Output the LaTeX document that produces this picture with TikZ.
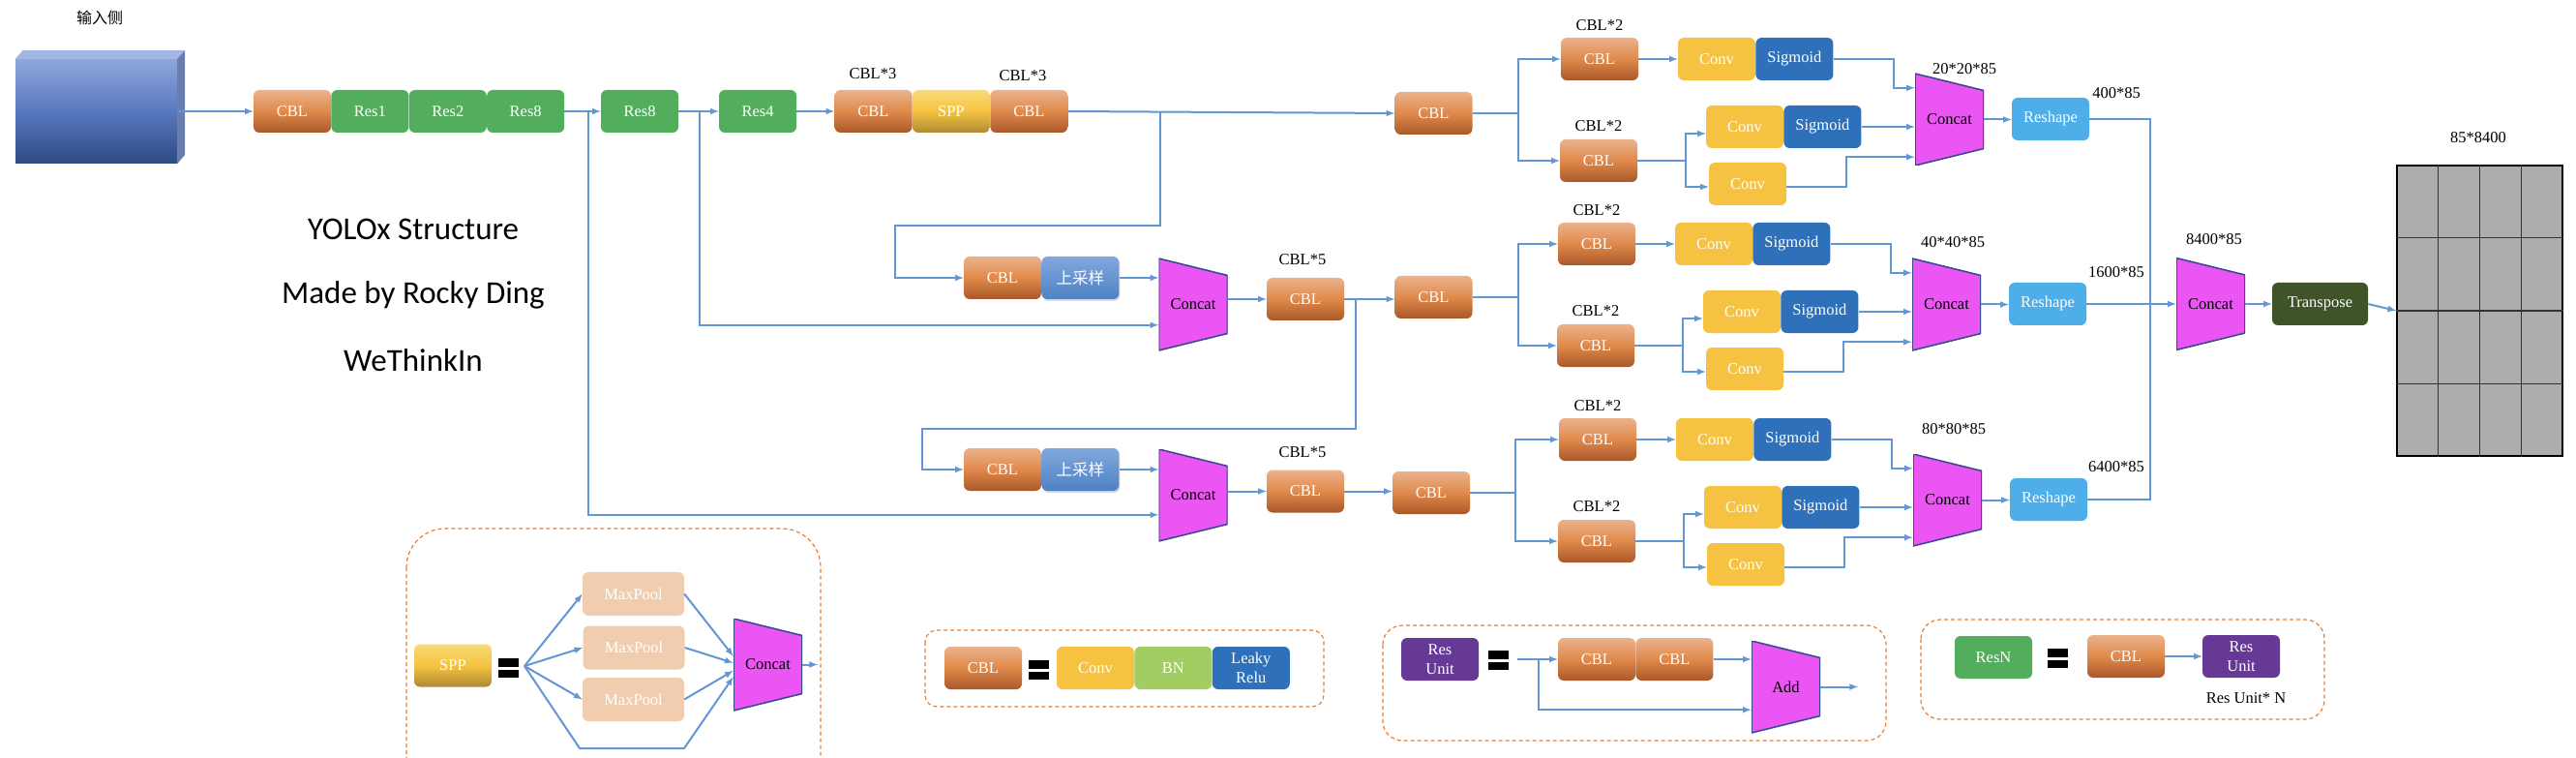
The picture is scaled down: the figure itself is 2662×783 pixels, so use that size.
\documentclass[tikz,border=0pt]{standalone}
\usepackage{fontspec}
\setmainfont{Liberation Serif}
\newfontfamily\titlefont{Carlito}
\newfontfamily\cjk{Noto Sans CJK SC}
\usetikzlibrary{positioning,calc,shadows,arrows}

\definecolor{cbltop}{HTML}{EBB28C}
\definecolor{cblmid}{HTML}{E0894A}
\definecolor{cblbot}{HTML}{A9582A}
\definecolor{resgreen}{HTML}{52AD5C}
\definecolor{spptop}{HTML}{F9DA78}
\definecolor{sppmid}{HTML}{F5C340}
\definecolor{sppbot}{HTML}{AE8A34}
\definecolor{uptop}{HTML}{82A8DE}
\definecolor{upbot}{HTML}{4E82C4}
\definecolor{convyellow}{HTML}{F5C242}
\definecolor{sigblue}{HTML}{2E70B9}
\definecolor{catpink}{HTML}{EB55F3}
\definecolor{catline}{HTML}{3B4C8C}
\definecolor{reshapeblue}{HTML}{4DAEE9}
\definecolor{transgreen}{HTML}{3F5429}
\definecolor{bngreen}{HTML}{A2CD62}
\definecolor{unitpurple}{HTML}{673996}
\definecolor{poolpeach}{HTML}{F1CDB0}
\definecolor{gridgray}{HTML}{ADADAD}
\definecolor{linkblue}{HTML}{6296D4}
\definecolor{dashorange}{HTML}{ED7D31}
\definecolor{intop}{HTML}{A3B6E1}
\definecolor{infronttop}{HTML}{8FA7DA}
\definecolor{infrontmid}{HTML}{5878C0}
\definecolor{infrontbot}{HTML}{2F4A80}
\definecolor{inside}{HTML}{6A7EAE}

\begin{document}
\begin{tikzpicture}[
x=1pt, y=-1pt,
blk/.style={
  rounded corners=6pt,
  minimum width=80pt,
  minimum height=44pt,
  inner sep=0pt,
  text=white,
  font=\fontsize{16.5}{20}\selectfont
  },
cblbox/.style={blk, top color=cbltop, bottom color=cblbot, middle color=cblmid},
resbox/.style={blk, fill=resgreen},
sppbox/.style={blk, top color=spptop, bottom color=sppbot, middle color=sppmid},
upbox/.style={blk, top color=uptop, bottom color=upbot,
  drop shadow={shadow xshift=1pt, shadow yshift=-2pt, opacity=0.3}},
convbox/.style={blk, fill=convyellow},
sigbox/.style={blk, fill=sigblue},
bnbox/.style={blk, fill=bngreen},
rsbox/.style={blk, fill=reshapeblue},
unitbox/.style={blk, fill=unitpurple, align=center},
poolbox/.style={blk, fill=poolpeach, minimum width=105pt, minimum height=45pt},
catnode/.style={
  minimum width=71pt,
  minimum height=95pt,
  inner sep=0pt,
  font=\fontsize{16.5}{20}\selectfont,
  path picture={
    \fill[catpink, draw=catline, line width=1.6pt]
      (path picture bounding box.north west)
      -- ([yshift=-17.5pt]path picture bounding box.north east)
      -- ([yshift=17.5pt]path picture bounding box.south east)
      -- (path picture bounding box.south west) -- cycle;
    }
  },
lbl/.style={inner sep=0pt, font=\fontsize{16.5}{20}\selectfont},
title/.style={inner sep=0pt, font=\titlefont\fontsize{33}{36}\selectfont},
link/.style={draw=linkblue, line width=2pt},
dashbox/.style={draw=dashorange, line width=1.2pt, dash pattern=on 4pt off 3pt},
>=latex
]
\useasboundingbox (0,0) rectangle (2662,783);

% input
\node[lbl, font=\cjk\fontsize{16}{18}\selectfont] (lin) at (103,18) {输入侧};
\node[minimum width=167pt, minimum height=108pt, inner sep=0pt,
  top color=infronttop, bottom color=infrontbot, middle color=infrontmid] (inp) at (99.5,115) {};
\fill[intop] (inp.north west) -- ++(8,-9) -- ++(167,0) -- (inp.north east) -- cycle;
\fill[inside] (inp.north east) -- ++(8,-9) -- ++(0,108) -- (inp.south east) -- cycle;

% backbone
\node[cblbox] (cbl0) at (302,115) {CBL};
\node[resbox, right=0pt of cbl0] (res1) {Res1};
\node[resbox, right=0pt of res1] (res2) {Res2};
\node[resbox, right=0pt of res2] (res8a) {Res8};
\node[resbox] (res8b) at (661,115) {Res8};
\node[resbox] (res4) at (783,115) {Res4};
\node[lbl] (l3a) at (902,76) {CBL*3};
\node[cblbox] (cbl3a) at (902.5,115) {CBL};
\node[sppbox, right=0pt of cbl3a] (spp) {SPP};
\node[lbl] (l3b) at (1057,78) {CBL*3};
\node[cblbox, right=0pt of spp] (cbl3b) {CBL};
\node[cblbox] (cblT) at (1481.5,117) {CBL};

% neck
\node[cblbox] (cblU1) at (1036,287) {CBL};
\node[upbox, right=0pt of cblU1] (upU1) {\cjk 上采样};
\node[catnode] (catU1) at (1233,314.5) {Concat};
\node[lbl] (l5a) at (1346,268) {CBL*5};
\node[cblbox] (cbl5a) at (1349,309) {CBL};
\node[cblbox] (cblM) at (1481.5,307) {CBL};
\node[cblbox] (cblU2) at (1036,485) {CBL};
\node[upbox, right=0pt of cblU2] (upU2) {\cjk 上采样};
\node[catnode] (catU2) at (1233,511.5) {Concat};
\node[lbl] (l5b) at (1346,467) {CBL*5};
\node[cblbox] (cbl5b) at (1349,507.5) {CBL};
\node[cblbox] (cblB) at (1479,509) {CBL};

\node[title] (t1) at (427,237) {YOLOx Structure};
\node[title] (t2) at (427,305) {Made by Rocky Ding};
\node[title] (t3) at (427,372) {WeThinkIn};

\draw[link,->] (inp.east) -- (cbl0.west);
\draw[link,->] (res8a.east) -- (res8b.west);
\draw[link,->] ($(res8a.east)+(25,0)$) |- ($(catU2.north west)+(0,68)$);
\draw[link,->] (res8b.east) -- (res4.west);
\draw[link,->] ($(res8b.east)+(22,0)$) |- ($(catU1.north west)+(0,69)$);
\draw[link,->] (res4.east) -- (cbl3a.west);
\draw[link,->] (cbl3b.east) -- (cblT.west);
\draw[link,->] ($(cbl3b.east)+(95,0)$) -- ++(0,118) -| ($(cblU1.west)+(-71,0)$) -- (cblU1.west);
\draw[link,->] (upU1.east) -- (upU1.east -| catU1.west);
\draw[link,->] (cbl5a.west -| catU1.east) -- (cbl5a.west);
\draw[link,->] (cbl5a.east) -- (cbl5a.east -| cblM.west);
\draw[link,->] ($(cbl5a.east)+(12,0)$) -- ++(0,134) -| ($(cblU2.west)+(-43,0)$) -- (cblU2.west);
\draw[link,->] (upU2.east) -- (upU2.east -| catU2.west);
\draw[link,->] (cbl5b.west -| catU2.east) -- (cbl5b.west);
\draw[link,->] (cbl5b.east) -- (cbl5b.east -| cblB.west);

% heads
\foreach \h/\cx/\cy/\src/\lab/\lx/\ly/\out/\oy in
  {1/1979/76/cblT/20*20*85/2030/71/400*85/96,
   2/1976/267/cblM/40*40*85/2018/250/1600*85/281,
   3/1977/469/cblB/80*80*85/2019/443/6400*85/482}
{
  \node[lbl] (la\h) at (\cx-326,\cy-50) {CBL*2};
  \node[cblbox] (a\h) at (\cx-326,\cy-15) {CBL};
  \node[convbox] (c\h) at (\cx-205,\cy-15) {Conv};
  \node[sigbox, right=0pt of c\h] (s\h) {Sigmoid};
  \node[lbl] (lb\h) at (\cx-327,\cy+54) {CBL*2};
  \node[cblbox] (b\h) at (\cx-327,\cy+90) {CBL};
  \node[convbox] (d\h) at (\cx-176,\cy+55) {Conv};
  \node[sigbox, right=0pt of d\h] (t\h) {Sigmoid};
  \node[convbox] (e\h) at (\cx-173,\cy+114) {Conv};
  \node[catnode] (cat\h) at (\cx+35.5,\cy+47.5) {Concat};
  \node[lbl] (lc\h) at (\lx,\ly) {\lab};
  \node[rsbox] (rs\h) at (\cx+140,\cy+47) {Reshape};
  \node[lbl] (lo\h) at (2187,\oy) {\out};
  % head lines
  \draw[link] (\src.east) -- ++(47,0) coordinate (j\h);
  \draw[link,->] (j\h) |- (a\h.west);
  \draw[link,->] (j\h) |- (b\h.west);
  \draw[link,->] (a\h.east) -- (c\h.west);
  \draw[link,->] (s\h.east) -- ++(62,0) |- ($(cat\h.north west)+(0,15)$);
  \draw[link] (b\h.east) -- ++(50,0) coordinate (k\h);
  \draw[link,->] (k\h) |- ($(d\h.west)+(0,7)$);
  \draw[link,->] (k\h) |- ($(e\h.west)+(0,3)$);
  \draw[link,->] (t\h.east) -- (t\h.east -| cat\h.west);
  \draw[link,->] ($(e\h.east)+(0,3)$) -- ++(62,0) |- ($(cat\h.south west)+(0,-9)$);
  \draw[link,->] (cat\h.east) -- (cat\h.east -| rs\h.west);
}

% output
\node[catnode] (fcat) at (2284.5,314) {Concat};
\node[lbl] (l84) at (2288,247) {8400*85};
\node[blk, fill=transgreen, minimum width=99pt] (trans) at (2397.5,314) {Transpose};
\node[minimum width=171pt, minimum height=300pt, inner sep=0pt,
  fill=gridgray, draw=black, line width=1.5pt] (grid) at (2562.5,321) {};
\foreach \g in {1,2,3}
{
  \draw[line width=1.5pt, black!80] ($(grid.north west)!\g/4!(grid.north east)$) -- ($(grid.south west)!\g/4!(grid.south east)$);
  \draw[line width=1.5pt, black!80] ($(grid.north west)!\g/4!(grid.south west)$) -- ($(grid.north east)!\g/4!(grid.south east)$);
}
\node[lbl] (l85) at (2561,142) {85*8400};

\draw[link] (rs1.east) -- ++(63,0) |- (rs3.east);
\draw[link,->] (rs2.east) -- (rs2.east -| fcat.west);
\draw[link,->] (fcat.east) -- (trans.west);
\draw[link,->] (trans.east) -- (grid.west);

% legend: SPP
\draw[dashbox, rounded corners=40pt] (420,546) rectangle (848,840);
\node[sppbox] (lspp) at (468,687.5) {SPP};
\node[poolbox] (mp1) at (654.5,613.5) {MaxPool};
\node[poolbox] (mp2) at (655,669) {MaxPool};
\node[poolbox] (mp3) at (654.5,722.5) {MaxPool};
\node[catnode] (lcat) at (793.5,686.5) {Concat};
\coordinate (fan) at (542,688);
\foreach \m in {1,2,3}
  \draw[link,->] (fan) -- (mp\m.west);
\draw[link,->] (fan) -- ++(57,85) -- ++(108,0) -- ($(lcat.south west)+(0,-35)$);
\draw[link,->] (mp1.east) -- ($(lcat.north west)+(0,39)$);
\draw[link,->] (mp2.east) -- ($(lcat.north west)+(0,46)$);
\draw[link,->] (mp3.east) -- ($(lcat.north west)+(0,54)$);
\draw[link,->] (lcat.east) -- ++(16,0);

% legend: CBL
\draw[dashbox, rounded corners=12pt] (956,651) rectangle (1368,730);
\node[cblbox] (lcbl) at (1016,690) {CBL};
\node[convbox] (lconv) at (1132,690) {Conv};
\node[bnbox, right=0pt of lconv] (lbn) {BN};
\node[sigbox, right=0pt of lbn, align=center] (lrelu) {Leaky\\Relu};

% legend: Res Unit
\draw[dashbox, rounded corners=20pt] (1429,646) rectangle (1949,765);
\node[unitbox] (lunit) at (1488,681) {Res\\Unit};
\coordinate (ustart) at (1568,681);
\node[cblbox] (lcbla) at (1650,681) {CBL};
\node[cblbox, right=0pt of lcbla] (lcblb) {CBL};
\node[catnode] (ladd) at (1845.5,709.5) {Add};
\draw[link,->] (ustart) -- (lcbla.west);
\draw[link,->] ($(ustart)+(22,0)$) |- ($(ladd.south west)+(0,-24)$);
\draw[link,->] (lcblb.east) -- (lcblb.east -| ladd.west);
\draw[link,->] (ladd.east) -- ++(39,0);

% legend: ResN
\draw[dashbox, rounded corners=20pt] (1985,640) rectangle (2402,743);
\node[resbox] (lresn) at (2060,679) {ResN};
\node[cblbox] (lcblc) at (2197,678) {CBL};
\node[unitbox] (lunitb) at (2316,678) {Res\\Unit};
\draw[link,->] (lcblc.east) -- (lunitb.west);
\node[lbl] (lunitn) at (2321,721) {Res Unit* N};

% equal signs
\foreach \ex/\ey in {515/680, 1063/682, 1538/672, 2116/670}
{
  \fill[black] (\ex,\ey) rectangle ++(21,8.5);
  \fill[black] (\ex,\ey+11.5) rectangle ++(21,8.5);
}
\end{tikzpicture}
\end{document}
